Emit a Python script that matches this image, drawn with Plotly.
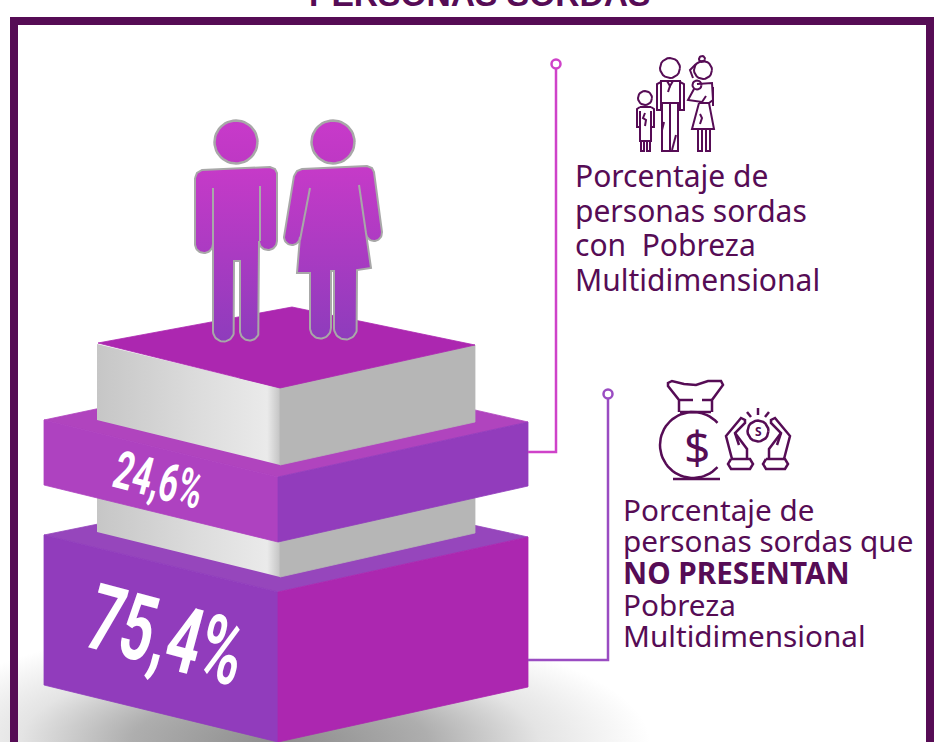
import math
import plotly.graph_objects as go

# ---- data ----
categories = ["Con pobreza multidimensional", "Sin pobreza multidimensional"]
shares = [24.6, 75.4]
title_text = "PERSONAS SORDAS"
label_top = ["Porcentaje de", "personas sordas", "con  Pobreza", "Multidimensional"]
label_bottom = ["Porcentaje de", "personas sordas que", "<b>NO PRESENTAN</b>", "Pobreza", "Multidimensional"]

DARK = "#560C55"
MAG = "#AC27B0"
VIO = "#923CBC"
LIL = "#AE42C0"
GREY_L = [[0, "#C6C6C6"], [0.55, "#DCDCDC"], [0.93, "#EAEAEA"], [1, "#C4C4C4"]]
GREY_R = "#B6B6B6"

fig = go.Figure()


def poly(xs, ys, color=None, grad=None, line=None, lw=0):
    kw = {}
    if grad:
        kw["fillgradient"] = grad
    else:
        kw["fillcolor"] = color
        if line is None:
            line, lw = color, 0.8
    fig.add_trace(go.Scatter(x=list(xs) + [xs[0]], y=list(ys) + [ys[0]], mode="lines", fill="toself",
                             line=dict(color=line or "rgba(0,0,0,0)", width=lw),
                             hoverinfo="skip", showlegend=False, **kw))


def stroke(segments, color=DARK, width=2):
    xs, ys = [], []
    for s in segments:
        for p in s:
            xs.append(p[0]); ys.append(p[1])
        xs.append(None); ys.append(None)
    fig.add_trace(go.Scatter(x=xs, y=ys, mode="lines", line=dict(color=color, width=width, shape="linear"),
                             hoverinfo="skip", showlegend=False))


def arc(cx, cy, rx, a0, a1, ry=None, n=24):
    ry = ry or rx
    return [(cx + rx * math.cos(math.radians(a0 + (a1 - a0) * i / n)),
             cy + ry * math.sin(math.radians(a0 + (a1 - a0) * i / n))) for i in range(n + 1)]


def unzip(pts):
    return [p[0] for p in pts], [p[1] for p in pts]


# shadow on the floor
sx, sy = unzip(arc(280, 742, 370, 0, 360, ry=120, n=72))
poly(sx, sy, grad=dict(type="radial", colorscale=[[0, "#8C8C8C"], [0.4, "#AEAEAE"], [0.7, "#E4E4E4"], [1, "#FFFFFF"]]))

# bottom slab
poly([44, 290, 528, 278], [535, 485, 537, 592], color="#9646BC")
poly([44, 278, 278, 44], [535, 592, 742, 685], color="#913CBC")
poly([278, 528, 528, 278], [592, 537, 687, 742], color=MAG)

# lower grey block
poly([97, 280, 280, 97], [480, 480, 577, 532], grad=dict(type="horizontal", colorscale=GREY_L))
poly([280, 475, 475, 280], [480, 480, 533, 577], color=GREY_R)

# upper slab
poly([44, 290, 528, 278], [420, 368, 422, 477], color="#B044BE")
poly([44, 278, 278, 44], [420, 477, 542, 485], color=LIL)
poly([278, 528, 528, 278], [477, 422, 486, 542], color=VIO)

# upper grey block
poly([97, 280, 280, 97], [344, 388, 465, 420], grad=dict(type="horizontal", colorscale=GREY_L))
poly([280, 475, 475, 280], [388, 345, 422, 465], color=GREY_R)
poly([98, 292, 475, 280], [343, 307, 345, 388], color=MAG)

# figures
FIG = dict(type="vertical", colorscale=[[0, "#8E3CBC"], [1, "#C63AC8"]])
RIM = "#A8A8A8"


def figure(pts, slits, head):
    hx, hy = unzip(arc(head[0], head[1], 21.5, 0, 360, n=48))
    poly(hx, hy, grad=dict(type="vertical", colorscale=[[0, "#BE38C4"], [1, "#C83ACA"]]), line=RIM, lw=2.5)
    xs, ys = unzip(pts)
    poly(xs, ys, grad=FIG, line=RIM, lw=2)
    stroke(slits, color=RIM, width=2)


man = ([(195, 178), (197, 173), (202, 170), (270, 167), (275, 169), (277, 173), (277, 241)]
       + arc(268, 241, 9, 0, 180) + [(259, 241)]
       + arc(249.5, 331, 9.5, 0, 180) + [(240, 261), (234, 261)]
       + arc(223.5, 331, 10.5, 0, 180) + [(213, 244)]
       + arc(204, 244, 9, 0, 180))
figure(man, [[(213, 188), (213, 244)], [(260, 186), (260, 241)]], (236, 142))

woman = ([(294, 176), (297, 171), (302, 169), (367, 166), (372, 168), (374, 172), (382, 232)]
         + arc(374, 233, 8, 0, 180) + [(371, 268), (357, 270)]
         + arc(345.5, 328, 11.5, 0, 180) + [(334, 271), (331, 271)]
         + arc(320.5, 328, 10.5, 0, 180) + [(310, 273), (297, 273), (300, 238)]
         + arc(292, 237, 8, 0, 180))
figure(woman, [[(310, 188), (300, 240)], [(359, 185), (366, 233)]], (333, 142))

# connectors
PINK = "#CF42C9"
PURP = "#9A4CC2"
fig.add_trace(go.Scatter(x=[528, 556, 556], y=[452, 452, 64], mode="lines", line=dict(color=PINK, width=2.5),
                         hoverinfo="skip", showlegend=False))
fig.add_trace(go.Scatter(x=[528, 608, 608], y=[660, 660, 394], mode="lines", line=dict(color=PURP, width=2.5),
                         hoverinfo="skip", showlegend=False))
fig.add_trace(go.Scatter(x=[556], y=[64], mode="markers", hoverinfo="skip", showlegend=False,
                         marker=dict(size=9, color="white", line=dict(color=PINK, width=2.5))))
fig.add_trace(go.Scatter(x=[608], y=[394], mode="markers", hoverinfo="skip", showlegend=False,
                         marker=dict(size=9, color="white", line=dict(color=PURP, width=2.5))))

# family icon
stroke([
    arc(670, 68, 10, 0, 360),
    [(661, 103), (661, 81), (680, 81), (680, 103), (661, 103)],
    [(661, 82), (657, 84), (657, 110), (661, 110), (661, 100)],
    [(680, 82), (684, 84), (684, 110), (680, 110), (680, 100)],
    [(662, 103), (662, 151), (678, 151), (678, 103)],
    [(670, 104), (670, 150)],
    [(667, 81), (670, 86), (673, 81)], [(670, 86), (668, 92)],
    [(664, 122), (662, 130)], [(676, 135), (672, 150)],
    arc(645, 98, 7, 0, 360),
    [(640, 107), (637, 109), (637, 127), (640, 127), (640, 111)],
    [(651, 107), (654, 109), (654, 127), (651, 127), (651, 111)],
    [(640, 107), (651, 107)],
    [(640, 112), (640, 141), (651, 141), (651, 112)],
    [(641, 141), (641, 151), (644, 151), (644, 141)],
    [(647, 141), (647, 151), (650, 151), (650, 141)],
    [(645, 113), (643, 118), (646, 120), (645, 126)],
    arc(703, 70, 9, 0, 360), arc(702, 59, 3, 0, 360),
    [(696, 64), (690, 70), (693, 78)],
    [(697, 84), (712, 83), (713, 100), (709, 103)],
    [(699, 103), (692, 129), (714, 129), (709, 103), (699, 103)],
    [(698, 129), (698, 151), (702, 151), (702, 129)],
    [(706, 129), (706, 151), (710, 151), (710, 129)],
    arc(697, 85, 4.5, 0, 360),
    [(694, 89), (688, 100), (702, 102), (706, 96)],
    [(700, 114), (702, 118), (700, 124)],
    [(713, 87), (713, 106)],
], width=2)

# money bag icon
stroke([
    arc(693, 445, 33, 42, 318, n=48),
    [(673, 479), (720, 479)],
    [(679, 412), (679, 400), (668, 386), (668, 383), (672, 381), (684, 384), (696, 385), (708, 381), (721, 381),
     (723, 385), (712, 400), (712, 412)],
    [(680, 412), (711, 412)],
    [(680, 400), (693, 400)], [(702, 400), (712, 400)],
    arc(758, 431, 10.5, 0, 360),
    [(758, 408), (758, 415)], [(747, 412), (751, 417)], [(769, 412), (765, 417)],
    [(732, 459), (726, 436), (741, 418), (745, 420), (745, 423), (735, 433), (739, 445)],
    [(747, 459), (747, 449), (735, 433)],
    [(784, 459), (790, 436), (775, 418), (771, 420), (771, 423), (781, 433), (777, 445)],
    [(769, 459), (769, 449), (781, 433)],
    [(731, 459), (750, 459), (753, 464), (750, 469), (731, 469), (728, 464), (731, 459)],
    [(766, 459), (785, 459), (788, 464), (785, 469), (766, 469), (763, 464), (766, 459)],
], width=2.5)

# frame
shapes = [dict(type="rect", xref="x", yref="y", x0=14, y0=21, x1=930, y1=780,
               line=dict(color=DARK, width=8), fillcolor="rgba(0,0,0,0)", layer="above")]


def pct(v):
    return f"{v:.1f}".replace(".", ",") + "%"


annotations = []


def text(x, y, s, size, color=DARK, family="Noto Sans", xanchor="left", yanchor="middle", angle=0, yshift=0, **font):
    annotations.append(dict(x=x, y=y, xref="x", yref="y", text=s, showarrow=False, xanchor=xanchor,
                            yanchor=yanchor, textangle=angle, yshift=yshift,
                            font=dict(family=family, size=size, color=color, **font)))


text(479, 0, "<b>" + title_text + "</b>", 33.6, family="Liberation Sans", xanchor="center", yshift=6)
for s, y in zip(label_top, [175, 210, 244, 279]):
    text(573, y, s, 30)
for s, y in zip(label_bottom, [509, 540, 572, 604, 635]):
    text(621, y, s, 29.7)
text(697, 446, "$", 46, xanchor="center")
text(758, 431, "<b>S</b>", 12, xanchor="center")
text(158, 480, pct(shares[0]), 53, color="white", family="Roboto", xanchor="center", angle=15, weight=700)
text(166, 635, pct(shares[1]), 92, color="white", family="Roboto", xanchor="center", angle=15, weight=700)

fig.update_layout(
    width=934, height=742, margin=dict(l=0, r=0, t=0, b=0),
    paper_bgcolor="white", plot_bgcolor="white", showlegend=False,
    xaxis=dict(range=[0, 934], visible=False, fixedrange=True),
    yaxis=dict(range=[742, 0], visible=False, fixedrange=True),
    shapes=shapes, annotations=annotations,
)
# condense the two percentage labels (the reference uses a condensed face)
squeeze = """
document.body.style.margin='0';document.body.style.overflow='hidden';
document.querySelectorAll('.annotation-text').forEach(function(t){
  if(t.textContent.indexOf('%')>=0){
    var big=t.textContent.indexOf('75')==0;
    t.setAttribute('textLength', big?158:90);
    t.setAttribute('lengthAdjust','spacingAndGlyphs');
  }
});
"""
fig.write_html("out.html", config=dict(displayModeBar=False), post_script=squeeze)
